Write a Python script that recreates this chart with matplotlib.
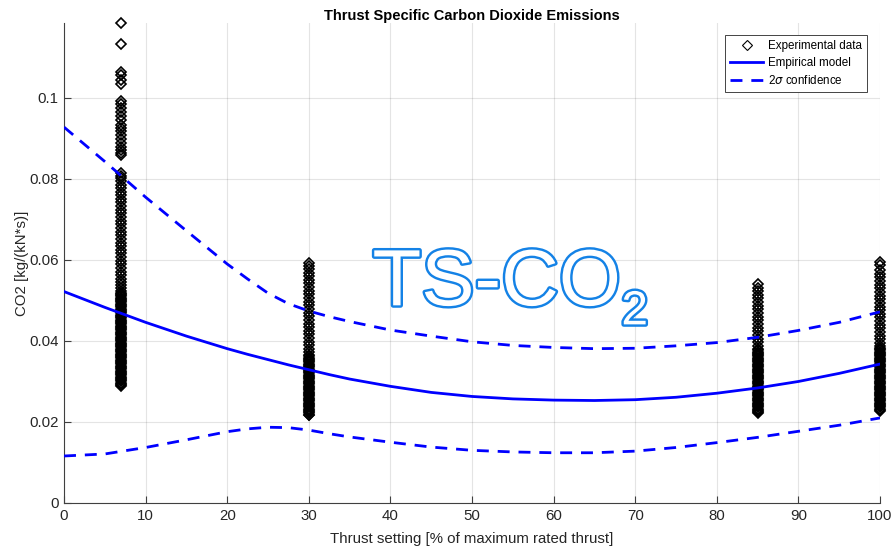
import numpy as np
import matplotlib
matplotlib.use("Agg")
import matplotlib.pyplot as plt
import matplotlib.patheffects as pe
from matplotlib.lines import Line2D

plt.rcParams['font.family'] = ['Liberation Sans', 'DejaVu Sans']

# Measured thrust settings and thrust specific CO2 [kg/(kN*s)]
thrust_7 = 7
co2_7 = [0.1184, 0.1133, 0.1065, 0.1057, 0.1044, 0.1035, 0.0992, 0.0985, 0.0975,
         0.0966, 0.0955, 0.0945, 0.0933, 0.0925, 0.0918, 0.0909, 0.0898, 0.0888,
         0.0880, 0.0872, 0.0865, 0.0859,
         0.0814, 0.0808, 0.0802, 0.0795, 0.0785, 0.0777, 0.0769, 0.0760, 0.0751,
         0.0742, 0.0733, 0.0724, 0.0715, 0.0706, 0.0697, 0.0688, 0.0679, 0.0670,
         0.0661, 0.0652, 0.0643, 0.0634, 0.0625, 0.0616, 0.0607, 0.0598, 0.0589,
         0.0580, 0.0571, 0.0562, 0.0553, 0.0545, 0.0538, 0.0530, 0.0524,
         0.0519, 0.0516, 0.0513, 0.0510, 0.0507, 0.0504, 0.0501, 0.0498, 0.0495,
         0.0492, 0.0489, 0.0486, 0.0483, 0.0480, 0.0477, 0.0474, 0.0471, 0.0468,
         0.0465, 0.0462, 0.0459, 0.0456, 0.0453, 0.0450, 0.0447, 0.0444, 0.0441,
         0.0438, 0.0435, 0.0432, 0.0429, 0.0426, 0.0423, 0.0420, 0.0417, 0.0414,
         0.0411, 0.0408, 0.0405, 0.0402, 0.0399, 0.0396, 0.0393, 0.0390, 0.0387,
         0.0384, 0.0381, 0.0378, 0.0375, 0.0372, 0.0369, 0.0366, 0.0363, 0.0360,
         0.0357, 0.0354, 0.0351, 0.0348, 0.0345, 0.0342, 0.0339, 0.0336, 0.0333,
         0.0330, 0.0327, 0.0324, 0.0321, 0.0318, 0.0315, 0.0312, 0.0309, 0.0306,
         0.0303, 0.0300, 0.0297, 0.0294, 0.0291, 0.0290]

thrust_30 = 30
co2_30 = [0.0593, 0.0586, 0.0578, 0.0569, 0.0560, 0.0551, 0.0542, 0.0533, 0.0524,
          0.0515, 0.0506, 0.0497, 0.0488, 0.0479, 0.0470, 0.0461, 0.0452, 0.0443,
          0.0434, 0.0425, 0.0416, 0.0407, 0.0398, 0.0389, 0.0380, 0.0372, 0.0366,
          0.0362, 0.0359, 0.0356, 0.0353, 0.0350, 0.0347, 0.0344, 0.0341, 0.0338,
          0.0335, 0.0332, 0.0329, 0.0326, 0.0323, 0.0320, 0.0317, 0.0314, 0.0311,
          0.0308, 0.0305, 0.0302, 0.0299, 0.0296, 0.0293, 0.0290, 0.0287, 0.0284,
          0.0281, 0.0278, 0.0275, 0.0272, 0.0269, 0.0266, 0.0263, 0.0260, 0.0257,
          0.0254, 0.0251, 0.0248, 0.0245, 0.0242, 0.0239, 0.0236, 0.0233, 0.0230,
          0.0227, 0.0224, 0.0221, 0.0218, 0.0216]

thrust_85 = 85
co2_85 = [0.0540, 0.0532, 0.0523, 0.0514, 0.0505, 0.0496, 0.0487, 0.0478, 0.0469,
          0.0460, 0.0451, 0.0442, 0.0433, 0.0424, 0.0415, 0.0406, 0.0397, 0.0388,
          0.0381,
          0.0377, 0.0374, 0.0371, 0.0368, 0.0365, 0.0362, 0.0359, 0.0356, 0.0353,
          0.0350, 0.0347, 0.0344, 0.0341, 0.0338, 0.0335, 0.0332, 0.0329, 0.0326,
          0.0323, 0.0320, 0.0317, 0.0314, 0.0311, 0.0308, 0.0305, 0.0302, 0.0299,
          0.0296, 0.0293, 0.0290, 0.0287, 0.0284, 0.0281, 0.0278, 0.0275, 0.0272,
          0.0269, 0.0266, 0.0263, 0.0260, 0.0257, 0.0254, 0.0251, 0.0248, 0.0245,
          0.0242, 0.0239, 0.0236, 0.0233, 0.0230, 0.0227, 0.0224, 0.0221]

thrust_100 = 100
co2_100 = [0.0595, 0.0588, 0.0575, 0.0566, 0.0557, 0.0548, 0.0539, 0.0530, 0.0521,
           0.0512, 0.0503, 0.0494, 0.0485, 0.0476, 0.0467, 0.0458, 0.0449, 0.0440,
           0.0431, 0.0422, 0.0413, 0.0404, 0.0395, 0.0387, 0.0382,
           0.0380, 0.0377, 0.0374, 0.0371, 0.0368, 0.0365, 0.0362, 0.0359, 0.0356,
           0.0353, 0.0350, 0.0347, 0.0344, 0.0341, 0.0338, 0.0335, 0.0332, 0.0329,
           0.0326, 0.0323, 0.0320, 0.0317, 0.0314, 0.0311, 0.0308, 0.0305, 0.0302,
           0.0299, 0.0296, 0.0293, 0.0290, 0.0287, 0.0284, 0.0281, 0.0278, 0.0275,
           0.0272, 0.0269, 0.0266, 0.0263, 0.0260, 0.0257, 0.0254, 0.0251, 0.0248,
           0.0245, 0.0242, 0.0239, 0.0236, 0.0233, 0.0230, 0.0227]

# Empirical model and its 2-sigma band
fit_thrust = [0, 5, 10, 15, 20, 22.5, 25, 27.5, 30, 32.5, 35, 40, 45, 50, 55,
              60, 65, 70, 75, 80, 85, 90, 95, 100]
fit_model = [0.0522, 0.0483, 0.0446, 0.0412, 0.0381, 0.0367, 0.0354, 0.0341,
             0.0329, 0.0317, 0.0306, 0.0288, 0.0273, 0.0263, 0.0257, 0.0254,
             0.0253, 0.0255, 0.0261, 0.0271, 0.0284, 0.0300, 0.0320, 0.0343]
fit_upper = [0.0928, 0.0843, 0.0755, 0.0672, 0.0590, 0.0553, 0.0518, 0.0492,
             0.0474, 0.0460, 0.0448, 0.0427, 0.0412, 0.0398, 0.0389, 0.0384,
             0.0381, 0.0382, 0.0388, 0.0396, 0.0409, 0.0426, 0.0446, 0.0472]
fit_lower = [0.0116, 0.0121, 0.0137, 0.0156, 0.0176, 0.0183, 0.0187, 0.0186,
             0.0180, 0.0171, 0.0163, 0.0150, 0.0138, 0.0130, 0.0126, 0.0124,
             0.0124, 0.0128, 0.0137, 0.0149, 0.0162, 0.0177, 0.0192, 0.0210]

x_ticks = [0, 10, 20, 30, 40, 50, 60, 70, 80, 90, 100]
y_ticks = [0, 0.02, 0.04, 0.06, 0.08, 0.1]
y_tick_labels = ['0', '0.02', '0.04', '0.06', '0.08', '0.1']

axis_grey = '#404040'
text_grey = '#262626'
blue = '#0000ff'

fig = plt.figure(figsize=(8.93, 5.46), dpi=100)
ax = fig.add_axes([0.0717, 0.0788, 0.9138, 0.879])

marker_style = dict(linestyle='none', marker='D', markersize=4.8,
                    markerfacecolor='none', markeredgecolor='black',
                    markeredgewidth=1.2, clip_on=False, zorder=3)
for tx, vals in [(thrust_7, co2_7), (thrust_30, co2_30),
                 (thrust_85, co2_85), (thrust_100, co2_100)]:
    ax.plot(np.full(len(vals), tx), vals, **marker_style)

ax.plot(fit_thrust, fit_model, color=blue, linewidth=2, zorder=4)
dash = (0, (4.3, 3.2))
ax.plot(fit_thrust, fit_upper, color=blue, linewidth=2, linestyle=dash, zorder=4)
ax.plot(fit_thrust, fit_lower, color=blue, linewidth=2, linestyle=dash, zorder=4)

ax.set_xlim(0, 100)
ax.set_ylim(0, 0.1185)
ax.set_xticks(x_ticks)
ax.set_yticks(y_ticks)
ax.set_yticklabels(y_tick_labels)
ax.grid(True, color='#262626', alpha=0.12, linewidth=0.8)
ax.set_axisbelow(True)
for side in ['top', 'right']:
    ax.spines[side].set_visible(False)
for side in ['left', 'bottom']:
    ax.spines[side].set_color(axis_grey)
    ax.spines[side].set_linewidth(0.8)
ax.tick_params(direction='in', length=5, width=0.8, color=axis_grey,
               labelcolor=text_grey, labelsize=10.8, pad=4)

ax.set_title('Thrust Specific Carbon Dioxide Emissions', fontsize=10.5,
             fontweight='bold', pad=2)
ax.set_xlabel('Thrust setting [% of maximum rated thrust]', fontsize=10.8,
              color=text_grey, labelpad=7)
ax.set_ylabel('CO2 [kg/(kN*s)]', fontsize=10.8, color=text_grey, labelpad=0)

# Outlined watermark label
outline = [pe.withStroke(linewidth=3.5, foreground='#1482e6')]
ax.text(37.8, 0.0488, 'TS-CO', fontsize=57.5, color='white', ha='left',
        va='baseline', path_effects=outline, zorder=5)
ax.text(68.3, 0.0441, '2', fontsize=34.5, color='white', ha='left',
        va='baseline', path_effects=outline, zorder=5)

handles = [
    Line2D([], [], linestyle='none', marker='D', markersize=4.8,
           markerfacecolor='none', markeredgecolor='black', markeredgewidth=0.8),
    Line2D([], [], color=blue, linewidth=2),
    Line2D([], [], color=blue, linewidth=2, linestyle=dash),
]
labels = ['Experimental data', 'Empirical model', r'2$\sigma$ confidence']
leg = ax.legend(handles, labels, loc='upper right', bbox_to_anchor=(0.984, 0.975),
                borderaxespad=0, fontsize=8.4, fancybox=False, framealpha=1,
                edgecolor='#262626', handlelength=2.9, handletextpad=0.4,
                borderpad=0.42, labelspacing=0.42)
leg.get_frame().set_linewidth(0.6)

fig.savefig('out.png', dpi=100)
